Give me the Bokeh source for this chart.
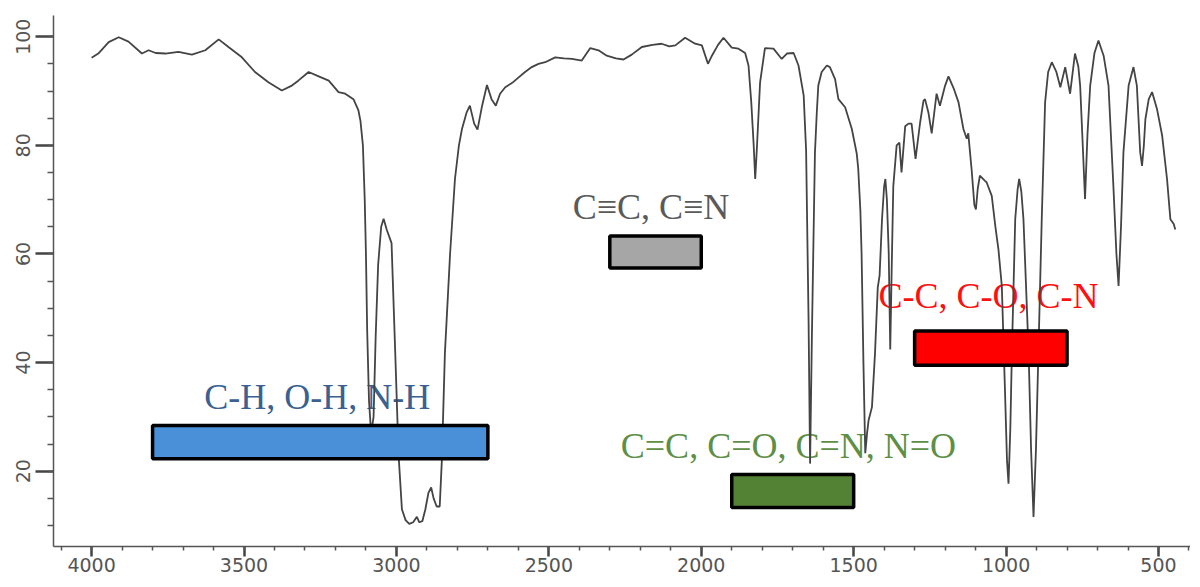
from bokeh.plotting import figure
from bokeh.models import Range1d, SingleIntervalTicker
from bokeh.core.properties import value
from bokeh.embed import file_html
from bokeh.resources import INLINE

# IR spectrum (wavenumber cm-1, % transmittance)
wavenumber = [4000, 3978, 3944, 3911, 3879, 3835, 3813, 3790, 3758, 3715, 3671, 3627, 3583, 3551, 3507,
              3464, 3420, 3376, 3343, 3322, 3288, 3255, 3222, 3190, 3168, 3141, 3125, 3118, 3110, 3104,
              3100, 3096, 3090, 3083, 3075, 3068, 3060, 3050, 3042, 3032, 3016, 3004, 2993, 2982, 2970,
              2958, 2945, 2933, 2925, 2915, 2905, 2895, 2886, 2878, 2868, 2858, 2851, 2841, 2824, 2808,
              2795, 2785, 2770, 2759, 2745, 2734, 2720, 2703, 2688, 2674, 2660, 2643, 2620, 2599, 2578,
              2556, 2534, 2512, 2479, 2450, 2424, 2392, 2364, 2337, 2310, 2280, 2255, 2228, 2195, 2160,
              2130, 2105, 2085, 2053, 2020, 1998, 1978, 1965, 1945, 1927, 1900, 1878, 1856, 1845, 1836,
              1828, 1823, 1817, 1807, 1791, 1763, 1736, 1719, 1697, 1681, 1664, 1656, 1648, 1643, 1637,
              1632, 1627, 1621, 1616, 1605, 1588, 1578, 1561, 1550, 1528, 1506, 1490, 1485, 1478, 1474,
              1468, 1462, 1456, 1451, 1440, 1430, 1421, 1415, 1407, 1400, 1396, 1391, 1385, 1380, 1375,
              1370, 1359, 1350, 1343, 1331, 1320, 1310, 1297, 1282, 1271, 1266, 1255, 1244, 1228, 1217,
              1200, 1189, 1172, 1156, 1140, 1129, 1124, 1113, 1104, 1099, 1093, 1086, 1070, 1064, 1047,
              1035, 1025, 1014, 1004, 997, 992, 986, 981, 970, 962, 957, 950, 943, 926, 918,
              910, 902, 894, 883, 872, 862, 850, 835, 822, 806, 790, 774, 763, 757, 750,
              741, 733, 724, 710, 697, 680, 664, 648, 638, 631, 623, 615, 598, 582, 571,
              560, 554, 548, 543, 532, 521, 505, 488, 472, 461, 450, 445]
transmittance = [96.1, 96.9, 99.0, 99.9, 99.1, 96.9, 97.5, 97.0, 96.9, 97.2, 96.7, 97.5, 99.5, 98.1, 96.2,
                 93.5, 91.6, 90.1, 91.0, 91.9, 93.5, 92.7, 91.9, 89.8, 89.5, 88.5, 86.5, 84.5, 80.0, 70.0,
                 60.0, 46.0, 33.0, 27.0, 30.0, 45.0, 58.0, 65.0, 66.5, 64.5, 62.0, 42.0, 23.0, 13.0, 11.0,
                 10.3, 10.6, 11.6, 10.6, 10.8, 13.0, 16.0, 17.0, 15.0, 13.5, 13.5, 22.0, 41.7, 60.0, 73.8,
                 80.0, 83.0, 86.0, 87.3, 84.0, 82.9, 87.0, 91.1, 88.5, 87.3, 89.5, 90.7, 91.5, 92.5, 93.5,
                 94.4, 95.0, 95.3, 96.2, 96.0, 95.9, 95.6, 97.9, 97.5, 96.5, 96.0, 95.8, 96.7, 98.1, 98.5,
                 98.7, 98.2, 98.4, 99.8, 98.7, 98.4, 95.0, 96.5, 98.5, 99.8, 98.0, 97.8, 97.0, 94.7, 88.0,
                 80.0, 73.8, 80.0, 91.6, 97.9, 97.8, 95.9, 96.9, 97.0, 94.7, 89.2, 79.0, 48.0, 21.4, 45.0,
                 62.0, 78.7, 86.0, 91.0, 93.5, 94.7, 94.4, 92.2, 88.5, 87.0, 83.0, 78.5, 75.7, 68.0, 60.0,
                 40.0, 23.3, 27.0, 29.4, 31.8, 41.7, 53.8, 56.0, 66.4, 72.5, 73.8, 70.0, 60.2, 42.4, 58.0,
                 72.5, 80.0, 80.5, 75.0, 83.5, 84.0, 84.0, 77.5, 84.2, 88.2, 88.5, 86.1, 82.2, 89.5, 87.3,
                 91.0, 92.7, 90.5, 87.9, 83.0, 81.2, 82.2, 75.5, 69.0, 68.2, 72.0, 74.4, 73.5, 73.2, 70.7,
                 65.0, 60.8, 54.1, 35.6, 22.0, 17.7, 28.0, 41.7, 66.4, 72.0, 73.8, 71.5, 66.4, 41.7, 24.0,
                 11.6, 24.0, 41.7, 66.4, 87.9, 93.5, 95.3, 93.5, 90.7, 94.4, 89.5, 96.9, 94.5, 91.0, 82.0,
                 70.1, 82.0, 91.0, 97.0, 99.3, 96.5, 91.0, 72.5, 60.0, 54.1, 65.0, 78.7, 91.0, 94.4, 91.0,
                 78.7, 76.2, 80.0, 84.8, 88.5, 89.8, 86.7, 81.8, 73.8, 66.4, 65.5, 64.5]

# Bond regions (wavenumber ranges)
band_labels = ["C-H, O-H, N-H", "C\u2261C, C\u2261N", "C=C, C=O, C=N, N=O", "C-C, C-O, C-N"]
band_high = [3800, 2300, 1900, 1300]
band_low = [2700, 2000, 1500, 800]
band_bottom = [22.3, 57.4, 13.3, 39.5]
band_top = [28.4, 63.3, 19.4, 45.8]
band_fill = ["#4A90D9", "#A6A6A6", "#548235", "#FF0000"]
label_color = ["#3A6190", "#5A5A5A", "#5E8F46", "#FF1010"]

x_ticks_major = 500
y_ticks_major = 20

p = figure(width=1190, height=576, output_backend="svg", toolbar_location=None,
           x_range=Range1d(4125, 395), y_range=Range1d(6.14, 103.9),
           min_border_left=53, min_border_right=0, min_border_top=15, min_border_bottom=30)
p.outline_line_color = None
p.xgrid.visible = False
p.ygrid.visible = False
p.background_fill_color = "white"

# labels (drawn under the spectrum)
lbl_x = [3260, 2165, 1714, 1058]
lbl_y = [33.7, 68.7, 24.6, 52.2]
p.text(x=lbl_x, y=lbl_y, text=band_labels, text_align="center", text_baseline="alphabetic",
       text_color=label_color, text_font=value("Liberation Serif"), text_font_size=value("36px"))

p.line(wavenumber, transmittance, line_color="#444444", line_width=1.8)

p.quad(left=band_high, right=band_low, bottom=band_bottom, top=band_top,
       fill_color=band_fill, line_color="black", line_width=3.5)

xa = p.xaxis[0]
xa.ticker = SingleIntervalTicker(interval=x_ticks_major, num_minor_ticks=5)
xa.axis_line_color = "#555555"
xa.axis_line_width = 1.5
xa.major_tick_line_color = "#444444"
xa.major_tick_line_width = 2.5
xa.major_tick_out = 10
xa.major_tick_in = 0
xa.minor_tick_line_color = "#555555"
xa.minor_tick_line_width = 1.5
xa.minor_tick_out = 4
xa.minor_tick_in = 0
xa.major_label_standoff = 1
xa.major_label_text_font = "DejaVu Sans"
xa.major_label_text_font_size = "19px"
xa.major_label_text_color = "#555555"

ya = p.yaxis[0]
ya.ticker = SingleIntervalTicker(interval=y_ticks_major, num_minor_ticks=4)
ya.axis_line_color = "#555555"
ya.axis_line_width = 1.5
ya.major_tick_line_color = "#444444"
ya.major_tick_line_width = 2.5
ya.major_tick_out = 18
ya.major_tick_in = 0
ya.minor_tick_line_color = "#555555"
ya.minor_tick_line_width = 1.5
ya.minor_tick_out = 6
ya.minor_tick_in = 0
ya.major_label_orientation = "vertical"
ya.major_label_standoff = 5
ya.major_label_text_font = "DejaVu Sans"
ya.major_label_text_font_size = "19px"
ya.major_label_text_color = "#555555"

open("out.html", "w").write(file_html(p, INLINE))
